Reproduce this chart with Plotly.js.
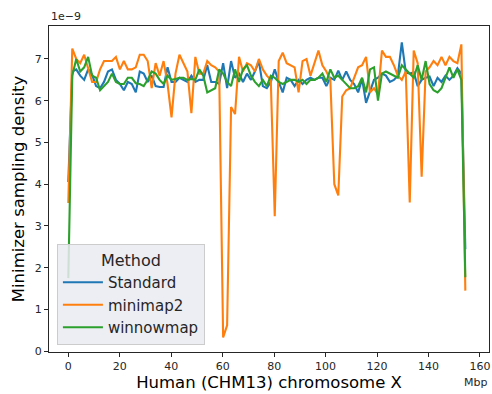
<!DOCTYPE html>
<html><head><meta charset="utf-8">
<script src="https://cdn.plot.ly/plotly-3.0.1.min.js"></script>
<style>html,body{margin:0;padding:0;background:#fff;}#chart{width:492px;height:394px;}</style>
</head><body><div id="chart"></div>
<script>
// Bin size ~1.543 Mbp, 101 bins along chromosome X (Mbp)
const binSizeMbp = 1.543;
const nBins = 101;
const positionsMbp = Array.from({length: nBins}, (_, i) => +(i * binSizeMbp).toFixed(3));

// Densities in units of 1e-9
const standard = [
  4.05, 6.70, 6.75, 6.60, 6.50, 6.75, 6.62, 6.35, 6.30, 6.45,
  6.70, 6.75, 6.50, 6.40, 6.25, 6.45, 6.40, 6.20, 6.70, 6.65,
  6.45, 6.60, 6.35, 6.33, 6.33, 6.80, 6.45, 6.45, 6.55, 6.50,
  6.45, 6.60, 6.45, 6.50, 6.50, 6.85, 6.45, 6.45, 6.40, 6.90,
  6.30, 6.95, 6.55, 6.65, 6.45, 6.65, 6.50, 6.70, 6.95, 6.35,
  6.30, 6.45, 6.75, 6.45, 6.20, 6.55, 6.50, 6.35, 6.50, 6.40,
  6.50, 6.55, 6.50, 6.55, 6.55, 6.35, 6.55, 6.50, 6.72, 6.50,
  6.70, 6.50, 6.40, 6.20, 6.52, 5.95, 6.25, 6.50, 6.55, 6.65,
  6.60, 6.45, 6.50, 6.60, 7.40, 6.68, 6.65, 6.68, 6.35, 6.50,
  6.55, 6.58, 6.35, 6.55, 6.45, 6.60, 6.50, 6.60, 6.78, 6.65,
  2.44
];
const minimap2 = [
  3.55, 7.25, 7.00, 6.90, 7.10, 6.80, 6.45, 6.45, 6.75, 6.95,
  6.95, 6.95, 7.05, 6.75, 6.95, 6.75, 6.75, 6.80, 7.10, 7.10,
  6.95, 6.30, 6.90, 6.60, 6.95, 6.40, 5.60, 6.65, 7.10, 6.90,
  6.70, 5.70, 7.05, 6.65, 6.65, 6.95, 6.85, 6.80, 6.70, 0.33,
  0.62, 5.85, 5.68, 7.05, 6.70, 6.90, 6.85, 6.70, 7.00, 6.75,
  6.60, 6.50, 3.23, 6.95, 7.15, 6.90, 6.85, 6.80, 6.20, 6.95,
  7.00, 6.60, 6.90, 7.20, 6.85, 6.70, 6.50, 4.00, 3.73, 6.10,
  6.25, 6.30, 6.55, 6.80, 6.85, 7.05, 6.20, 6.30, 6.15, 7.20,
  7.05, 7.05, 6.85, 6.60, 6.50, 6.70, 3.56, 7.20, 6.90, 4.18,
  6.70, 6.80, 6.95, 6.85, 7.05, 6.85, 7.05, 6.95, 6.90, 7.35,
  1.45
];
const winnowmap = [
  1.75, 6.60, 7.00, 6.70, 6.80, 7.05, 6.60, 6.55, 6.25, 6.35,
  6.45, 6.65, 6.45, 6.40, 6.40, 6.55, 6.55, 6.42, 6.40, 6.35,
  6.50, 6.70, 6.65, 6.50, 6.40, 6.60, 6.50, 6.52, 6.55, 6.55,
  6.50, 6.52, 6.50, 6.75, 6.60, 6.20, 6.25, 6.30, 6.75, 6.65,
  6.45, 6.35, 6.75, 6.45, 6.75, 6.85, 6.60, 6.45, 6.35, 6.50,
  6.35, 6.60, 6.55, 6.45, 6.40, 6.45, 6.50, 6.50, 6.45, 6.50,
  6.40, 6.50, 6.50, 6.55, 6.65, 6.45, 6.75, 6.55, 6.60, 6.50,
  6.40, 6.30, 6.30, 6.35, 6.55, 6.20, 6.75, 6.80, 6.00, 6.65,
  6.70, 6.65, 6.60, 6.55, 6.85, 6.75, 6.65, 6.55, 6.85, 6.50,
  6.95, 6.40, 6.25, 6.20, 6.30, 6.55, 6.80, 6.55, 6.75, 6.50,
  1.77
];

const seriesNames = ["Standard", "minimap2", "winnowmap"];
const seriesColors = ["#1f77b4", "#ff7f0e", "#2ca02c"];
const seriesValues = [standard, minimap2, winnowmap];

const xTicks = [0, 20, 40, 60, 80, 100, 120, 140, 160];
const yTicks = [0, 1, 2, 3, 4, 5, 6, 7];

const traces = seriesNames.map((name, k) => ({
  type: "scatter", mode: "lines", name: name,
  x: positionsMbp, y: seriesValues[k],
  line: {color: seriesColors[k], width: 2.1}
}));

const font = "DejaVu Sans, sans-serif";
const layout = {
  width: 492, height: 394,
  margin: {l: 49, r: 3, t: 26, b: 42},
  paper_bgcolor: "#fff", plot_bgcolor: "#fff",
  font: {family: font, color: "#262626"},
  showlegend: true,
  legend: {
    x: 0.018, y: 0.021, xanchor: "left", yanchor: "bottom",
    bgcolor: "rgba(234,234,242,0.85)", bordercolor: "#cccccc", borderwidth: 1,
    font: {family: font, size: 15, color: "#262626"},
    title: {text: "Method", side: "top center", font: {family: font, size: 16, color: "#262626"}},
    tracegroupgap: 0, itemwidth: 40
  },
  xaxis: {
    range: [-7.5, 163.5], tickvals: xTicks, ticktext: xTicks.map(String),
    showgrid: false, zeroline: false, showline: true, mirror: true,
    linecolor: "#262626", linewidth: 1,
    ticks: "outside", ticklen: 4, tickwidth: 1, tickcolor: "#262626",
    tickfont: {family: font, size: 11, color: "#262626"},
    title: {text: "Human (CHM13) chromosome X", font: {family: font, size: 16.5, color: "#000"}, standoff: 4}
  },
  yaxis: {
    range: [-0.02, 7.79], tickvals: yTicks, ticktext: yTicks.map(String),
    showgrid: false, zeroline: false, showline: true, mirror: true,
    linecolor: "#262626", linewidth: 1,
    ticks: "outside", ticklen: 4, tickwidth: 1, tickcolor: "#262626",
    tickfont: {family: font, size: 11, color: "#262626"},
    title: {text: "Minimizer sampling density", font: {family: font, size: 16.5, color: "#000"}, standoff: 6}
  },
  annotations: [
    {text: "1e\u22129", xref: "paper", yref: "paper", x: 0, y: 1, xanchor: "left", yanchor: "bottom",
     showarrow: false, font: {family: font, size: 11, color: "#262626"}, yshift: 1},
    {text: "Mbp", xref: "paper", yref: "paper", x: 1, y: 0, xanchor: "right", yanchor: "top",
     showarrow: false, font: {family: font, size: 11, color: "#262626"}, yshift: -22}
  ]
};

Plotly.newPlot("chart", traces, layout, {staticPlot: true, displayModeBar: false});
</script></body></html>
